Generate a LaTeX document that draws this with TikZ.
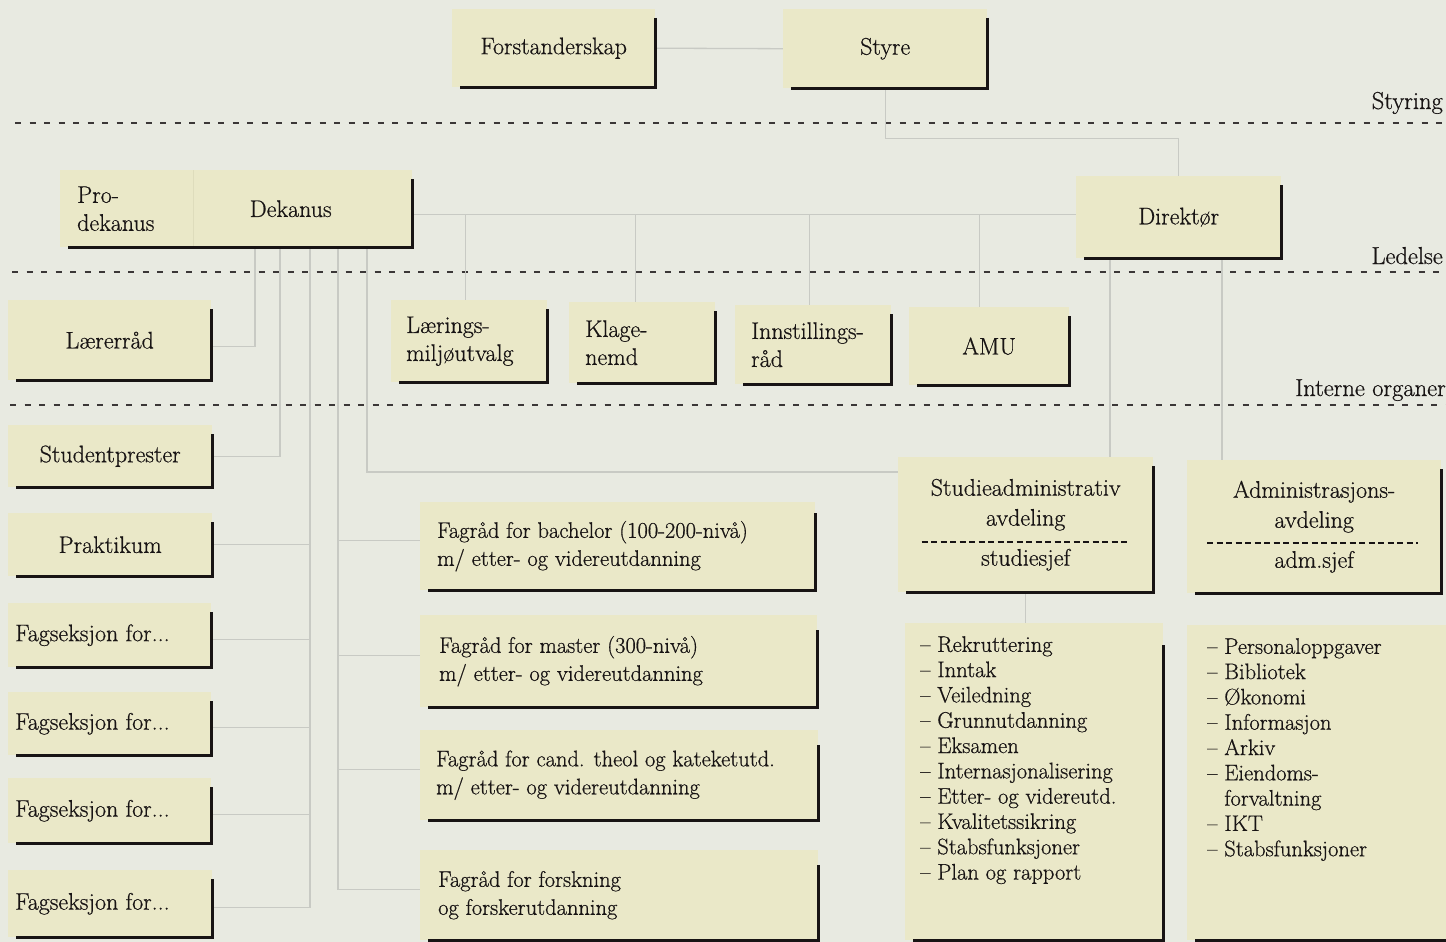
\documentclass[tikz,border=0pt]{standalone}
\usepackage{fontspec}
\setmainfont{Latin Modern Roman}[FakeBold=0.6]
\pgfdeclarelayer{bgl}
\pgfdeclarelayer{cnl}
\pgfsetlayers{bgl,cnl,main}
\definecolor{bgc}{RGB}{232,234,225}
\definecolor{boxc}{RGB}{234,232,200}
\definecolor{divc}{RGB}{222,220,188}
\definecolor{linec}{RGB}{200,202,196}
\definecolor{ink}{RGB}{24,20,20}
\newcommand\lab{\fontsize{24}{28}\selectfont}
\newcommand\fgr{\fontsize{22.5}{28}\selectfont}
\newcommand\lst{\fontsize{22.5}{25.3}\selectfont}
\tikzset{
  ob/.style={fill=boxc, inner sep=0pt, anchor=north west, align=center, text=ink, font=\lab},
  tx/.style={inner sep=0pt, anchor=west, align=left, text=ink, font=\lab},
  shadl/.style={draw=ink, line width=3pt},
  conn/.style={draw=linec, line width=1.3pt},
  zone/.style={draw=ink!85, line width=1.6pt, dash pattern=on 6pt off 8.5pt},
  sepd/.style={draw=ink, line width=1.6pt, dash pattern=on 6pt off 3.5pt},
  zlab/.style={anchor=base east, inner sep=0pt, text=ink, font=\fontsize{24.5}{28}\selectfont},
}
\newcommand\shd[2][9]{\draw[shadl] ([yshift=-#1pt]#2.north east) -- (#2.south east) -- ([xshift=8pt]#2.south west);}
\begin{document}
\begin{tikzpicture}[x=1pt,y=-1pt]
\useasboundingbox (0,0) rectangle (1446,942);
\clip (0,0) rectangle (1446,942);
\begin{pgfonlayer}{bgl}
\fill[bgc] (0,0) rectangle (1446,942);
\end{pgfonlayer}

% zone labels
\node[zlab] (zstyr) at (1443,109) {Styring};
\node[zlab] (zled) at (1443,264) {Ledelse};
\node[zlab] (zint) at (1446,396) {Interne organer};

% top level
\node[ob, minimum width=203pt, minimum height=78pt] (forst) at (452,9) {Forstanderskap};
\node[ob, minimum width=204pt, minimum height=79pt] (styre) at (783,9) {Styre};

% ledelse
\node[ob, minimum width=133pt, minimum height=77pt] (prodek) at (60,170) {};
\node[tx] (prodekt) at ([xshift=17pt]prodek.west) {Pro-\\dekanus};
\node[ob, minimum width=219pt, minimum height=77pt] (dek) at (193,170) {};
\node[tx, anchor=center] (dekt) at ([xshift=-12pt]dek.center) {Dekanus};
\draw[divc, line width=1pt] (prodek.north east) -- (prodek.south east);
\node[ob, minimum width=205pt, minimum height=82pt] (direk) at (1076,176) {Direktør};

% interne organer
\node[ob, minimum width=203pt, minimum height=80pt] (laerer) at (8,300) {Lærerråd};
\node[ob, minimum width=156pt, minimum height=82pt] (lmu) at (391,300) {};
\node[tx] (lmut) at ([xshift=15pt]lmu.west) {Lærings-\\miljøutvalg};
\node[ob, minimum width=146pt, minimum height=81pt] (klage) at (569,302) {};
\node[tx] (klaget) at ([xshift=16pt]klage.west) {Klage-\\nemd};
\node[ob, minimum width=156pt, minimum height=79pt] (innst) at (735,305) {};
\node[tx] (innstt) at ([xshift=16pt]innst.west) {Innstillings-\\råd};
\node[ob, minimum width=160pt, minimum height=78pt] (amu) at (909,307) {AMU};

% left column
\node[ob, minimum width=204pt, minimum height=62pt] (studp) at (8,425) {Studentprester};
\node[ob, minimum width=204pt, minimum height=63pt] (prakt) at (8,513) {Praktikum};
\node[ob, minimum width=203pt, minimum height=64pt] (fag1) at (8,603) {};
\node[tx] (fag1t) at ([xshift=7pt]fag1.west) {Fagseksjon for...};
\node[ob, minimum width=203pt, minimum height=63pt] (fag2) at (8,692) {};
\node[tx] (fag2t) at ([xshift=7pt]fag2.west) {Fagseksjon for...};
\node[ob, minimum width=203pt, minimum height=65pt] (fag3) at (8,778) {};
\node[tx] (fag3t) at ([xshift=7pt]fag3.west) {Fagseksjon for...};
\node[ob, minimum width=204pt, minimum height=67pt] (fag4) at (8,870) {};
\node[tx] (fag4t) at ([xshift=7pt]fag4.west) {Fagseksjon for...};

% fagraad
\node[ob, minimum width=395pt, minimum height=88pt] (fr1) at (420,502) {};
\node[tx, font=\fgr] (fr1t) at ([xshift=17pt]fr1.west) {Fagråd for bachelor (100-200-nivå)\\m/ etter- og videreutdanning};
\node[ob, minimum width=397pt, minimum height=92pt] (fr2) at (420,615) {};
\node[tx, font=\fgr] (fr2t) at ([xshift=19pt]fr2.west) {Fagråd for master (300-nivå)\\m/ etter- og videreutdanning};
\node[ob, minimum width=398pt, minimum height=90pt] (fr3) at (420,730) {};
\node[tx, font=\fgr] (fr3t) at ([xshift=16pt]fr3.west) {Fagråd for cand. theol og kateketutd.\\m/ etter- og videreutdanning};
\node[ob, minimum width=398pt, minimum height=90pt] (fr4) at (420,850) {};
\node[tx, font=\fgr] (fr4t) at ([xshift=18pt]fr4.west) {Fagråd for forskning\\og forskerutdanning};

% avdelinger
\node[ob, minimum width=255pt, minimum height=135pt] (studadm) at (898,457) {Studieadministrativ\\[2pt]avdeling\\[12pt]studiesjef};
\draw[sepd] ([xshift=-104pt,yshift=-17pt]studadm.center) -- ([xshift=105pt,yshift=-17pt]studadm.center);
\node[ob, minimum width=254pt, minimum height=133pt] (admavd) at (1187,460) {Administrasjons-\\[2pt]avdeling\\[12pt]adm.sjef};
\draw[sepd] ([xshift=-107pt,yshift=-16pt]admavd.center) -- ([xshift=104pt,yshift=-16pt]admavd.center);

\node[ob, minimum width=258pt, minimum height=317pt] (studlist) at (905,623) {};
\node[tx, anchor=north west, font=\lst] (studlistt) at ([xshift=15pt,yshift=-13pt]studlist.north west)
 {– Rekruttering\\– Inntak\\– Veiledning\\– Grunnutdanning\\– Eksamen\\– Internasjonalisering\\– Etter- og videreutd.\\– Kvalitetssikring\\– Stabsfunksjoner\\– Plan og rapport};
\node[ob, minimum width=270pt, minimum height=315pt] (admlist) at (1187,625) {};
\node[tx, anchor=north west, font=\lst] (admlistt) at ([xshift=20pt,yshift=-13pt]admlist.north west)
 {– Personaloppgaver\\– Bibliotek\\– Økonomi\\– Informasjon\\– Arkiv\\– Eiendoms-\\\phantom{– }forvaltning\\– IKT\\– Stabsfunksjoner};

% shadow edges
\shd{forst}
\shd{styre}
\draw[shadl] ([yshift=-9pt]dek.north east) -- (dek.south east) -- ([xshift=8pt]prodek.south west);
\shd{direk}
\shd{laerer}
\shd{lmu}
\shd{klage}
\shd{innst}
\shd{amu}
\shd{studp}
\shd{prakt}
\shd{fag1}
\shd{fag2}
\shd{fag3}
\shd{fag4}
\shd[11]{fr1}
\shd[15]{fr2}
\shd[15]{fr3}
\shd[15]{fr4}
\shd{studadm}
\shd{admavd}
\shd[22]{studlist}
\shd[22]{admlist}

\begin{pgfonlayer}{cnl}
% zone lines
\draw[zone] (15,123) -- (1446,123);
\draw[zone] (12,272) -- (1446,272);
\draw[zone] (10,405) -- (1446,405);
% connectors
\draw[conn] (forst.east) -- (styre.west);
\draw[conn] (styre.south) -- ++(0,50) -| (direk.north);
\coordinate (hub) at ([yshift=-6pt]dek.east);
\draw[conn] (hub) -- (hub -| direk.west);
\draw[conn] ([xshift=-4pt]lmu.north) -- ([xshift=-4pt]lmu.north |- hub);
\draw[conn] ([xshift=-7pt]klage.north) -- ([xshift=-7pt]klage.north |- hub);
\draw[conn] ([xshift=-4pt]innst.north) -- ([xshift=-4pt]innst.north |- hub);
\draw[conn] ([xshift=-10pt]amu.north) -- ([xshift=-10pt]amu.north |- hub);
\coordinate (d1) at ([xshift=62pt]dek.south west);
\coordinate (d2) at ([xshift=87pt]dek.south west);
\coordinate (d3) at ([xshift=117pt]dek.south west);
\coordinate (d4) at ([xshift=145pt]dek.south west);
\coordinate (d5) at ([xshift=174pt]dek.south west);
\draw[conn] ([yshift=-6pt]laerer.east) -| (d1);
\draw[conn] (studp.east) -| (d2);
\draw[conn] (prakt.east) -| (d3);
\foreach \b in {fag1,fag2,fag3,fag4} \draw[conn] ([yshift=-4pt]\b.east) -| (d3);
\foreach \b in {fr1,fr2,fr3,fr4} \draw[conn] ([yshift=6pt]\b.west) -| (d4);
\draw[conn] ([yshift=-15pt]studadm.north west) -| (d5);
\coordinate (r1) at ([xshift=34pt]direk.south west);
\coordinate (r2) at ([xshift=146pt]direk.south west);
\draw[conn] (r1) -- (r1 |- studadm.north);
\draw[conn] (r2) -- (r2 |- admavd.north);
\draw[conn] (studadm.south) -- (studadm.south |- studlist.north);
\end{pgfonlayer}
\end{tikzpicture}
\end{document}
